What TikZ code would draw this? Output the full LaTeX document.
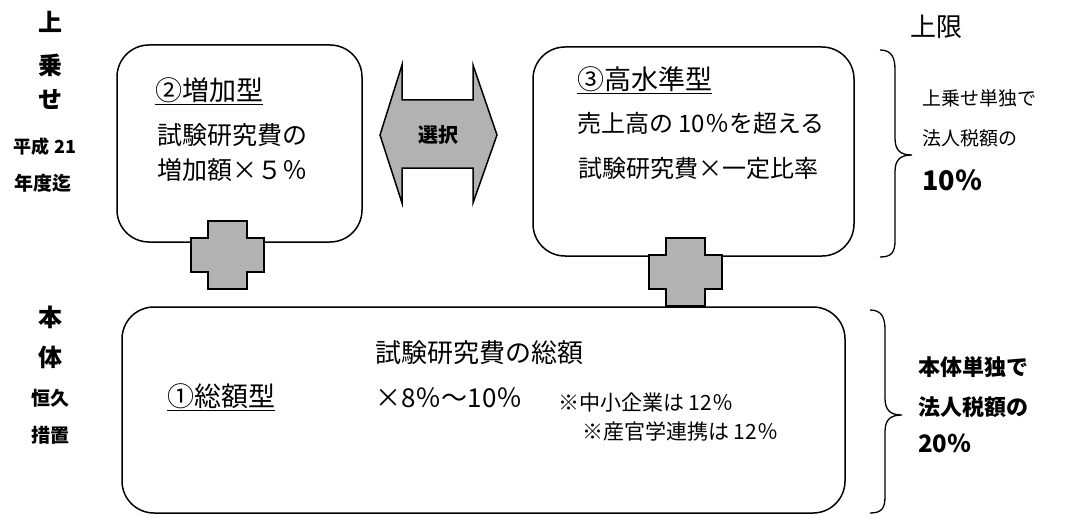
\documentclass[tikz,border=0pt]{standalone}
\usepackage{fontspec}
\setmainfont{Noto Sans CJK JP}
\newcommand{\fsz}[1]{\fontsize{#1}{#1}\selectfont}
\begin{document}
\begin{tikzpicture}[x=1pt,y=-1pt,
  box/.style={draw=black,line width=1.5pt,rounded corners=32pt,inner sep=0pt},
  txt/.style={anchor=west,inner sep=0pt},
  lab/.style={anchor=center,inner sep=0pt,font=\bfseries},
  crossfill/.style={draw=black,line width=2pt,fill=black!30},
  plus/.pic={\draw[crossfill] (-19.5,-34) -- (19.5,-34) -- (19.5,-17) -- (36.5,-17) -- (36.5,17) -- (19.5,17) -- (19.5,34) -- (-19.5,34) -- (-19.5,17) -- (-36.5,17) -- (-36.5,-17) -- (-19.5,-17) -- cycle;}
]
\path[use as bounding box] (0,0) rectangle (1076,516);

% left labels
\node[lab,font=\bfseries\fsz{24}] (l1) at (50,22) {上};
\node[lab,font=\bfseries\fsz{24}] (l2) at (50,65) {乗};
\node[lab,font=\bfseries\fsz{24}] (l3) at (50,100) {せ};
\node[lab,font=\bfseries\fsz{18}] (l4) at (45,147) {平成 21};
\node[lab,font=\bfseries\fsz{19}] (l5) at (43,183) {年度迄};
\node[lab,font=\bfseries\fsz{24}] (l6) at (50,317) {本};
\node[lab,font=\bfseries\fsz{24}] (l7) at (50,357) {体};
\node[lab,font=\bfseries\fsz{19}] (l8) at (50,398) {恒久};
\node[lab,font=\bfseries\fsz{19}] (l9) at (50,435) {措置};

% boxes
\node[box,minimum width=245pt,minimum height=197pt] (b2) at (239.5,143.5) {};
\node[box,minimum width=321pt,minimum height=209pt] (b3) at (693.5,151.5) {};
\node[box,minimum width=723pt,minimum height=206pt] (b1) at (483.5,410) {};

% box 2 text
\node[txt,font=\fsz{27}] (t2a) at (155,91) {\underline{②増加型}};
\node[txt,font=\fsz{25}] (t2b) at (157,135) {試験研究費の};
\node[txt,font=\fsz{25}] (t2c) at (157,170) {増加額×５％};

% box 3 text
\node[txt,font=\fsz{27}] (t3a) at (577,80) {\underline{③高水準型}};
\node[txt,font=\fsz{24}] (t3b) at (577,123) {売上高の 10％を超える};
\node[txt,font=\fsz{24}] (t3c) at (578,168) {試験研究費×一定比率};

% box 1 text
\node[txt,font=\fsz{27}] (t1a) at (167,397) {\underline{①総額型}};
\node[txt,font=\fsz{26}] (t1b) at (375,353) {試験研究費の総額};
\node[txt,font=\fsz{26}] (t1c) at (375,398) {×8％～10％};
\node[txt,font=\fsz{21}] (t1d) at (558,402) {※中小企業は 12％};
\node[txt,font=\fsz{21}] (t1e) at (582,431) {※産官学連携は 12％};

% plus signs
\pic at (227.5,255) {plus};
\pic at (685.5,271.5) {plus};

% double arrow
\draw[line width=1.5pt,fill=black!30] (380,135) -- (402,65) -- (402,100) -- (473,100) -- (473,65) -- (497,135) -- (473,203) -- (473,168) -- (402,168) -- (402,203) -- cycle;
\node[lab,font=\bfseries\fsz{20}] (sel) at (438,135) {選択};

% braces
\draw[line width=1.3pt] (880,50) .. controls (892,50) and (895,58) .. (895,70) -- (895,138) .. controls (895,150) and (900,155) .. (912,155) .. controls (900,155) and (895,160) .. (895,172) -- (895,240) .. controls (895,252) and (892,257) .. (880,257);
\draw[line width=1.3pt] (870,310) .. controls (882,310) and (885,318) .. (885,330) -- (885,398) .. controls (885,410) and (890,415) .. (902,415) .. controls (890,415) and (885,420) .. (885,432) -- (885,496) .. controls (885,508) and (882,513) .. (870,513);

% right texts
\node[txt,font=\fsz{26}] (r0) at (910,27) {上限};
\node[txt,font=\fsz{19}] (r1) at (922,98) {上乗せ単独で};
\node[txt,font=\fsz{19}] (r2) at (922,138) {法人税額の};
\node[txt,font=\bfseries\fsz{27}] (r3) at (922,180) {10％};
\node[txt,font=\bfseries\fsz{22}] (r4) at (918,367) {本体単独で};
\node[txt,font=\bfseries\fsz{22}] (r5) at (918,407) {法人税額の};
\node[txt,font=\bfseries\fsz{24}] (r6) at (918,443) {20％};
\end{tikzpicture}
\end{document}
